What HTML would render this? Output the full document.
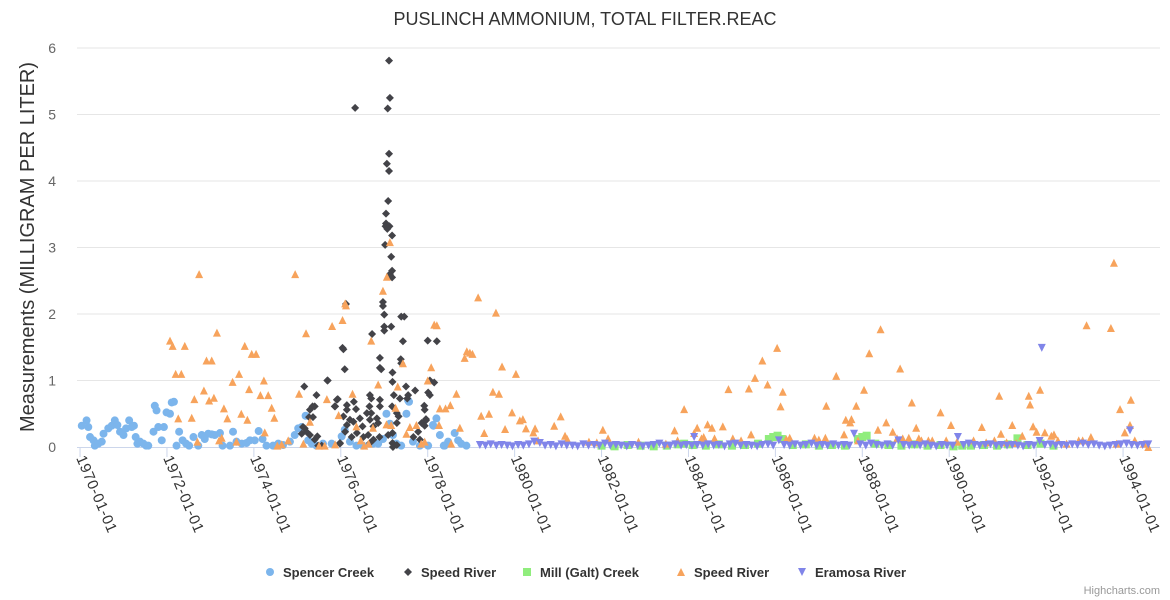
<!DOCTYPE html>
<html>
<head>
<meta charset="utf-8">
<style>
  html,body{margin:0;padding:0;background:#fff;}
  svg{display:block;font-family:"Liberation Sans","DejaVu Sans",sans-serif;}
</style>
</head>
<body>
<svg id="chart" width="1170" height="600" viewBox="0 0 1170 600" xmlns="http://www.w3.org/2000/svg">
  <rect x="0" y="0" width="1170" height="600" fill="#ffffff"/>
  <text x="585" y="25" text-anchor="middle" font-size="18" fill="#333333">PUSLINCH AMMONIUM, TOTAL FILTER.REAC</text>
  <text transform="translate(34,247) rotate(-90)" text-anchor="middle" font-size="20" fill="#333333">Measurements (MILLIGRAM PER LITER)</text>
  <g id="grid"></g>
  <g id="yticks"></g>
  <g id="xaxis"></g>
  <g id="series"></g>
  <g id="legend"></g>
  <text x="1160" y="594" text-anchor="end" font-size="11" fill="#999999">Highcharts.com</text>
</svg>
<script>
// Data: [years since 1970-01-01, value mg/L]
const yTicks = [0, 1, 2, 3, 4, 5, 6];
const xTickYears = [0, 2, 4, 6, 8, 10, 12, 14, 16, 18, 20, 22, 24];
const xTickLabels = ["1970-01-01","1972-01-01","1974-01-01","1976-01-01","1978-01-01","1980-01-01","1982-01-01","1984-01-01","1986-01-01","1988-01-01","1990-01-01","1992-01-01","1994-01-01"];
const seriesNames = ["Spencer Creek","Speed River","Mill (Galt) Creek","Speed River","Eramosa River"];

const spencerData = [[0.04,.32],[0.15,.40],[0.19,.30],[0.23,.15],[0.31,.10],[0.34,.02],[0.42,.05],[0.50,.08],[0.54,.20],[0.65,.28],[0.73,.32],[0.80,.40],[0.86,.33],[0.92,.23],[1.00,.18],[1.06,.28],[1.13,.40],[1.19,.30],[1.24,.32],[1.28,.15],[1.32,.05],[1.38,.08],[1.46,.05],[1.52,.02],[1.57,.02],[1.69,.23],[1.72,.62],[1.76,.55],[1.80,.30],[1.88,.10],[1.93,.30],[1.99,.52],[2.07,.50],[2.11,.67],[2.16,.68],[2.22,.02],[2.28,.23],[2.36,.10],[2.44,.05],[2.51,.02],[2.61,.15],[2.72,.02],[2.80,.18],[2.87,.12],[2.95,.20],[3.03,.19],[3.10,.18],[3.22,.21],[3.28,.02],[3.45,.02],[3.52,.23],[3.60,.08],[3.72,.05],[3.83,.06],[3.91,.10],[4.02,.10],[4.11,.24],[4.20,.12],[4.29,.02],[4.44,.02],[4.56,.05],[4.67,.03],[4.83,.08],[4.94,.18],[5.02,.28],[5.10,.30],[5.19,.47],[5.25,.10],[5.33,.05],[5.44,.02],[5.59,.05],[5.79,.05],[6.02,.16],[6.09,.26],[6.21,.08],[6.36,.02],[6.51,.02],[6.74,.05],[6.86,.05],[6.97,.12],[7.05,.50],[7.13,.35],[7.20,.18],[7.28,.05],[7.39,.02],[7.51,.50],[7.55,.70],[7.57,.68],[7.66,.08],[7.82,.02],[8.01,.02],[8.12,.33],[8.13,.32],[8.20,.43],[8.28,.18],[8.37,.02],[8.39,.02],[8.47,.08],[8.62,.21],[8.70,.10],[8.77,.05],[8.89,.02]];

const speedDarkData = [[5.10,.20],[5.13,.30],[5.16,.91],[5.17,.28],[5.21,.23],[5.27,.45],[5.29,.56],[5.29,.18],[5.35,.61],[5.36,.45],[5.40,.61],[5.40,.11],[5.44,.78],[5.46,.16],[5.48,.02],[5.56,.02],[5.69,1.0],[5.70,1.0],[5.86,.61],[5.87,.61],[5.91,.71],[5.93,.72],[5.98,.05],[5.98,.06],[6.04,1.49],[6.06,1.47],[6.06,.46],[6.09,1.17],[6.10,.23],[6.12,2.15],[6.14,.63],[6.14,.56],[6.14,.33],[6.21,.41],[6.25,.15],[6.29,.38],[6.30,.68],[6.33,5.10],[6.35,.57],[6.37,.21],[6.44,.43],[6.50,.31],[6.52,.15],[6.60,.51],[6.63,.18],[6.66,.61],[6.67,.78],[6.67,.41],[6.67,.06],[6.70,.73],[6.70,.51],[6.72,1.70],[6.75,.31],[6.75,.11],[6.83,.43],[6.86,.36],[6.89,.15],[6.90,1.34],[6.90,1.19],[6.90,.71],[6.90,.61],[6.93,1.17],[6.97,2.18],[6.97,2.12],[7.00,1.99],[7.00,1.81],[7.00,1.75],[7.02,3.04],[7.03,3.32],[7.04,3.51],[7.04,3.36],[7.06,4.26],[7.07,3.28],[7.08,5.09],[7.09,3.70],[7.09,.18],[7.11,5.81],[7.11,4.41],[7.11,4.15],[7.12,3.32],[7.13,5.25],[7.13,2.60],[7.16,2.86],[7.16,1.81],[7.18,3.18],[7.18,2.65],[7.18,2.55],[7.18,.61],[7.19,1.12],[7.19,.98],[7.19,.21],[7.19,.06],[7.20,.05],[7.20,.0],[7.22,.78],[7.29,.51],[7.29,.03],[7.33,.46],[7.29,.36],[7.36,.73],[7.38,1.32],[7.39,1.26],[7.39,1.96],[7.43,1.59],[7.46,1.96],[7.50,.91],[7.55,.78],[7.53,.73],[7.67,.15],[7.71,.85],[7.78,.23],[7.82,.11],[7.86,.36],[7.92,.62],[7.93,.56],[7.93,.32],[7.96,.42],[7.96,.40],[8.00,1.60],[8.01,.82],[8.05,1.0],[8.05,.78],[8.15,.97],[8.21,1.59]];

const millData = [[12.0,.02],[12.3,.01],[12.6,.03],[12.9,.02],[13.2,.01],[13.5,.02],[13.75,.04],[13.9,.05],[14.1,.03],[14.4,.02],[14.7,.04],[15.0,.02],[15.3,.03],[15.6,.05],[15.85,.12],[15.95,.15],[16.05,.17],[16.15,.12],[16.4,.03],[16.7,.04],[17.0,.02],[17.3,.03],[17.6,.02],[17.9,.12],[18.0,.15],[18.1,.17],[18.3,.05],[18.6,.03],[18.9,.02],[19.2,.04],[19.5,.02],[19.8,.03],[20.1,.01],[20.3,.02],[20.5,.02],[20.8,.03],[21.1,.02],[21.35,.04],[21.57,.13],[21.8,.03],[22.1,.05],[22.4,.02]];

const speedOrangeData = [[2.07,1.60],[2.13,1.52],[2.20,1.10],[2.26,.43],[2.33,1.10],[2.41,1.52],[2.57,.44],[2.63,.72],[2.70,.08],[2.74,2.60],[2.85,.85],[2.91,1.30],[2.97,.70],[3.03,1.30],[3.08,.74],[3.15,1.72],[3.20,.10],[3.26,.14],[3.31,.58],[3.39,.43],[3.51,.98],[3.60,.08],[3.66,1.10],[3.71,.50],[3.79,1.52],[3.85,.41],[3.89,.87],[3.95,1.40],[4.05,1.40],[4.15,.78],[4.23,1.0],[4.33,.78],[4.25,.22],[4.41,.59],[4.47,.44],[4.54,.02],[4.64,.04],[4.79,.10],[4.95,2.60],[5.04,.80],[5.14,.05],[5.20,1.71],[5.29,.38],[5.50,.02],[5.63,.02],[5.68,.72],[5.80,1.82],[5.87,.04],[5.95,.48],[6.04,1.91],[6.10,2.16],[6.12,2.13],[6.27,.80],[6.36,.31],[6.46,.10],[6.54,.02],[6.64,.05],[6.70,1.60],[6.74,.29],[6.86,.94],[6.97,2.35],[7.06,2.56],[7.13,3.08],[7.05,.34],[7.16,.33],[7.26,.59],[7.31,.91],[7.43,1.26],[7.51,.20],[7.59,.30],[7.74,.33],[7.85,.05],[7.93,.08],[8.00,1.0],[8.08,1.20],[8.15,1.84],[8.21,1.83],[8.26,.33],[8.28,.58],[8.41,.58],[8.52,.63],[8.54,.05],[8.66,.80],[8.74,.29],[8.85,1.34],[8.90,1.44],[8.97,1.42],[9.03,1.40],[9.16,2.25],[9.23,.47],[9.30,.21],[9.41,.50],[9.50,.83],[9.57,2.02],[9.64,.80],[9.71,1.21],[9.78,.27],[9.94,.52],[10.03,1.10],[10.12,.40],[10.19,.42],[10.26,.28],[10.43,.22],[10.47,.28],[10.54,.10],[10.91,.32],[11.06,.46],[11.16,.17],[11.21,.12],[11.71,.08],[11.89,.07],[12.03,.26],[12.15,.13],[12.85,.08],[13.48,.05],[13.68,.25],[13.75,.10],[13.90,.57],[14.13,.21],[14.20,.29],[14.30,.13],[14.35,.15],[14.44,.34],[14.54,.29],[14.60,.13],[14.79,.31],[14.92,.87],[15.02,.13],[15.21,.10],[15.39,.88],[15.44,.19],[15.53,1.04],[15.70,1.30],[15.82,.94],[16.04,1.49],[16.12,.61],[16.17,.83],[16.25,.12],[16.33,.14],[16.90,.14],[17.00,.11],[17.15,.14],[17.17,.62],[17.40,1.07],[17.58,.19],[17.62,.41],[17.72,.37],[17.75,.42],[17.86,.62],[17.90,.10],[18.04,.86],[18.16,1.41],[18.36,.26],[18.42,1.77],[18.55,.37],[18.70,.23],[18.80,.13],[18.87,1.18],[18.93,.13],[19.07,.14],[19.14,.67],[19.24,.29],[19.30,.13],[19.36,.10],[19.52,.10],[19.61,.10],[19.80,.52],[19.93,.10],[20.04,.33],[20.18,.08],[20.56,.10],[20.75,.30],[20.85,.07],[21.04,.10],[21.15,.77],[21.19,.20],[21.32,.07],[21.45,.33],[21.54,.06],[21.68,.17],[21.83,.77],[21.86,.64],[21.93,.31],[22.01,.23],[22.09,.86],[22.20,.22],[22.35,.17],[22.41,.19],[22.50,.10],[22.70,.05],[22.98,.10],[23.07,.10],[23.16,1.83],[23.26,.15],[23.72,1.79],[23.79,2.77],[23.85,.05],[23.93,.57],[24.04,.22],[24.16,.33],[24.18,.71],[24.27,.10],[24.48,.05],[24.58,.0]];

const eramosaData = [[9.20,.03],[9.33,.02],[9.45,.04],[9.58,.02],[9.70,.03],[9.83,.02],[9.95,.01],[10.08,.03],[10.20,.02],[10.33,.04],[10.45,.08],[10.58,.06],[10.70,.02],[10.83,.03],[10.95,.01],[11.08,.04],[11.20,.02],[11.33,.02],[11.45,.01],[11.58,.04],[11.70,.02],[11.83,.03],[11.95,.02],[12.08,.05],[12.20,.02],[12.33,.03],[12.45,.02],[12.58,.01],[12.70,.03],[12.83,.02],[12.95,.01],[13.08,.02],[13.20,.03],[13.33,.05],[13.45,.02],[13.58,.02],[13.70,.04],[13.83,.02],[13.95,.03],[14.08,.02],[14.13,.15],[14.20,.03],[14.33,.02],[14.45,.04],[14.58,.02],[14.70,.03],[14.83,.01],[14.95,.04],[15.08,.05],[15.20,.02],[15.33,.03],[15.45,.02],[15.58,.01],[15.70,.03],[15.83,.04],[15.95,.02],[16.08,.10],[16.20,.03],[16.33,.02],[16.45,.04],[16.58,.02],[16.70,.03],[16.83,.05],[16.95,.02],[17.08,.03],[17.20,.02],[17.33,.04],[17.45,.02],[17.58,.03],[17.70,.02],[17.81,.20],[17.95,.04],[18.08,.02],[18.20,.05],[18.33,.03],[18.45,.02],[18.58,.04],[18.70,.02],[18.83,.10],[18.95,.03],[19.08,.02],[19.20,.03],[19.33,.02],[19.45,.04],[19.58,.02],[19.70,.01],[19.83,.03],[19.95,.02],[20.08,.02],[20.20,.15],[20.33,.03],[20.45,.05],[20.58,.03],[20.70,.02],[20.83,.03],[20.95,.04],[21.08,.02],[21.20,.03],[21.33,.02],[21.45,.03],[21.58,.02],[21.70,.01],[21.83,.03],[21.95,.02],[22.08,.09],[22.13,1.49],[22.20,.03],[22.33,.04],[22.45,.02],[22.58,.03],[22.70,.02],[22.83,.04],[22.95,.03],[23.08,.05],[23.20,.03],[23.33,.04],[23.45,.02],[23.58,.01],[23.70,.02],[23.83,.03],[23.95,.04],[24.08,.05],[24.16,.25],[24.20,.03],[24.33,.02],[24.45,.03],[24.58,.04]];

const NS = "http://www.w3.org/2000/svg";
const plotLeft = 77, plotRight = 1160, plotTop = 48, plotBottom = 447;
const xMin = -0.07, xMax = 24.85, yMin = 0, yMax = 6;
function xScale(t){ return plotLeft + (t - xMin) / (xMax - xMin) * (plotRight - plotLeft); }
function yScale(v){ return plotBottom - (v - yMin) / (yMax - yMin) * (plotBottom - plotTop); }
function mk(tag, attrs, parent){
  const el = document.createElementNS(NS, tag);
  for (const k in attrs) el.setAttribute(k, attrs[k]);
  parent.appendChild(el);
  return el;
}

const grid = document.getElementById('grid');
const yt = document.getElementById('yticks');
yTicks.forEach(v => {
  const y = yScale(v);
  if (v > 0) {
    const l = mk('line', {x1: plotLeft, x2: plotRight, y1: y, y2: y, stroke: '#e6e6e6', 'stroke-width': 1}, grid);
    
    
  }
  const t = mk('text', {x: 56, y: y + 5, 'text-anchor': 'end', 'font-size': 14, fill: '#666666'}, yt);
  t.textContent = String(v);
  
  
});

const xa = document.getElementById('xaxis');
const axisLine = mk('line', {x1: plotLeft, x2: plotRight, y1: plotBottom + 0.5, y2: plotBottom + 0.5, stroke: '#ccd6eb', 'stroke-width': 1}, xa);


xTickYears.forEach((t, i) => {
  const x = xScale(t);
  const tk = mk('line', {x1: x, x2: x, y1: plotBottom, y2: plotBottom + 10, stroke: '#ccd6eb', 'stroke-width': 1}, xa);
  
  
  const lb = mk('text', {transform: 'translate(' + (x - 4) + ',' + (plotBottom + 11) + ') rotate(67)', 'font-size': 15, fill: '#333333', 'letter-spacing': '0.6'}, xa);
  lb.textContent = xTickLabels[i];
  
  
});

function marker(shape, x, y, color, parent){
  let el;
  if (shape === 'circle') el = mk('circle', {cx: x, cy: y, r: 4, fill: color}, parent);
  else if (shape === 'diamond') el = mk('path', {d: `M${x},${y-4}L${x+4},${y}L${x},${y+4}L${x-4},${y}Z`, fill: color}, parent);
  else if (shape === 'square') el = mk('rect', {x: x-4, y: y-4, width: 8, height: 8, fill: color}, parent);
  else if (shape === 'triangle') el = mk('path', {d: `M${x},${y-4}L${x+4},${y+4}L${x-4},${y+4}Z`, fill: color}, parent);
  else el = mk('path', {d: `M${x},${y+4}L${x+4},${y-4}L${x-4},${y-4}Z`, fill: color}, parent);
  return el;
}

const seriesDefs = [
  {data: spencerData, shape: 'circle', color: '#7cb5ec', key: 'spencer-creek'},
  {data: speedDarkData, shape: 'diamond', color: '#434348', key: 'speed-river-1'},
  {data: millData, shape: 'square', color: '#90ed7d', key: 'mill-galt-creek'},
  {data: speedOrangeData, shape: 'triangle', color: '#f7a35c', key: 'speed-river-2'},
  {data: eramosaData, shape: 'triangle-down', color: '#8085e9', key: 'eramosa-river'}
];
const sg = document.getElementById('series');
seriesDefs.forEach(s => {
  const g = mk('g', {}, sg);
  
  
  s.data.forEach(p => {
    const m = marker(s.shape, xScale(p[0]), yScale(p[1]), s.color, g);
    
    
  });
});

const legendX = [270, 408, 527, 681, 802];
const lg = document.getElementById('legend');
seriesDefs.forEach((s, i) => {
  const g = mk('g', {}, lg);
  
  
  const sym = marker(s.shape, legendX[i], 572, s.color, g);
  
  
  const t = mk('text', {x: legendX[i] + 13, y: 577, 'font-size': 13, 'font-weight': 'bold', fill: '#333333'}, g);
  t.textContent = seriesNames[i];
  
  
});
</script>
</body>
</html>
